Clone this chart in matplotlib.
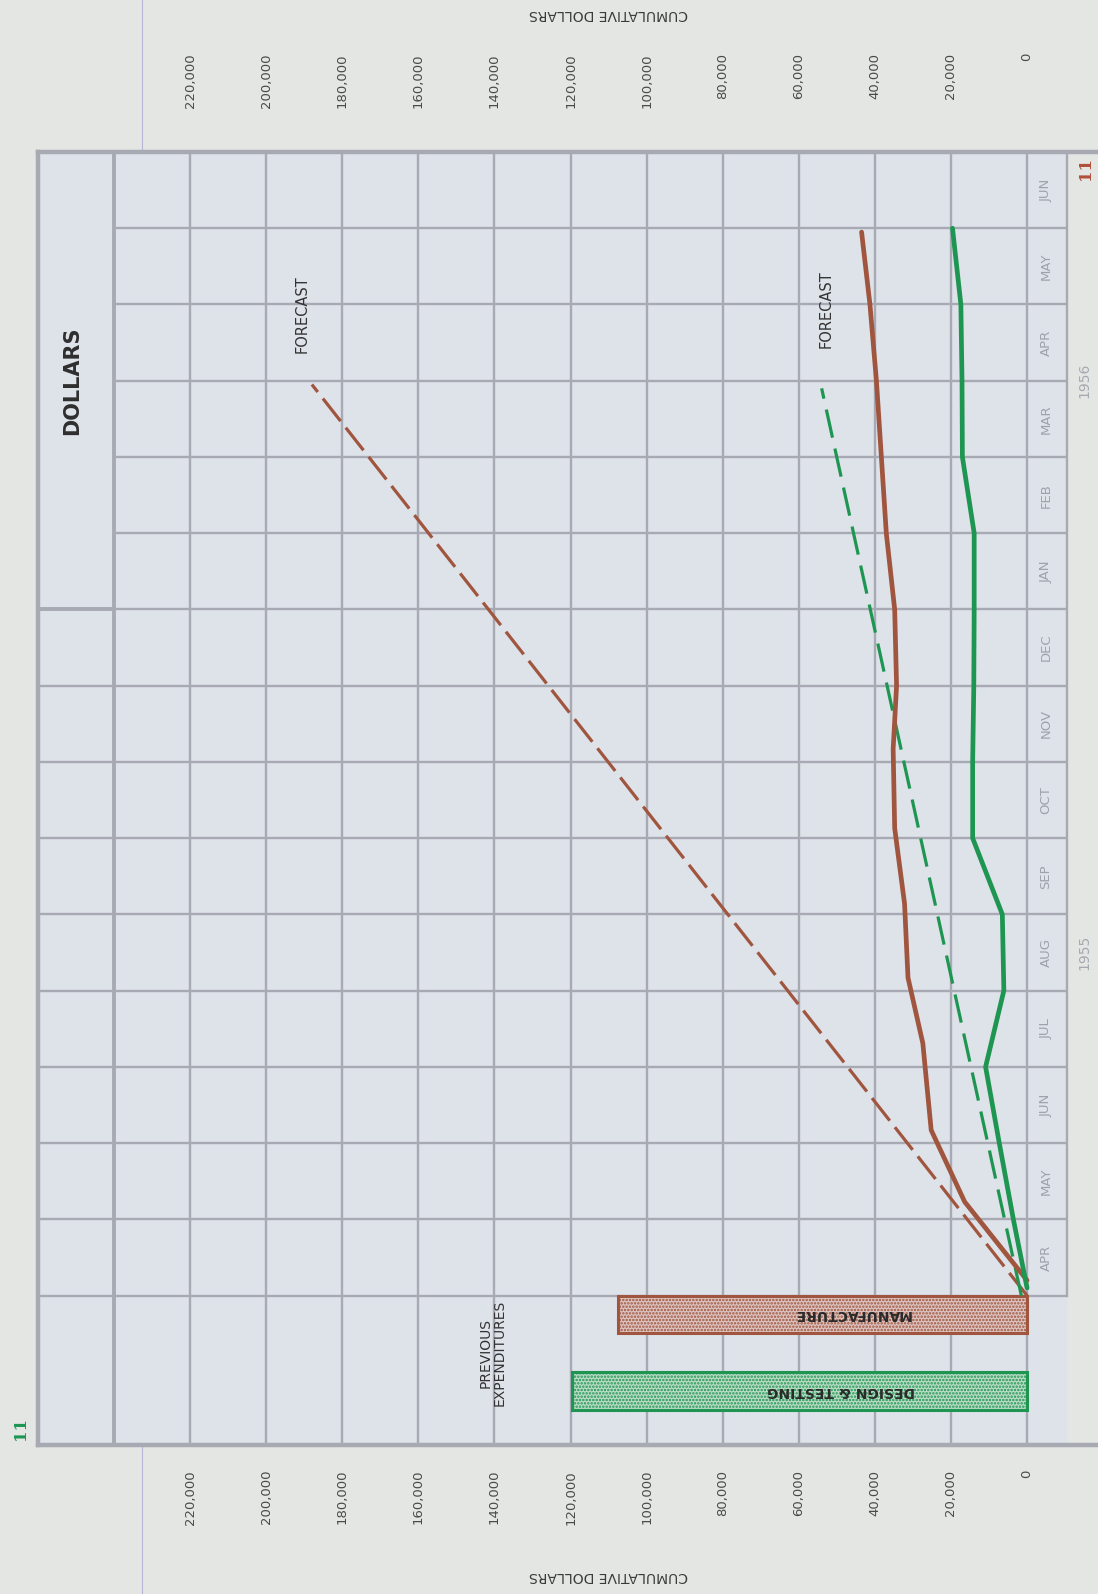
import numpy as np
import matplotlib
matplotlib.use("Agg")
import matplotlib.pyplot as plt
import matplotlib.transforms as mtransforms

# ---------------- data ----------------
months = ['APR', 'MAY', 'JUN', 'JUL', 'AUG', 'SEP', 'OCT', 'NOV', 'DEC',
          'JAN', 'FEB', 'MAR', 'APR', 'MAY', 'JUN']
value_ticks = [0, 20000, 40000, 60000, 80000, 100000, 120000, 140000,
               160000, 180000, 200000, 220000]
tick_labels = ['0', '20,000', '40,000', '60,000', '80,000', '100,000',
               '120,000', '140,000', '160,000', '180,000', '200,000', '220,000']

# actual cumulative spending (time in months from start of APR 1955)
design_t = [0.1, 1, 2, 3, 4, 5, 6, 7, 8, 9, 10, 11, 12, 13, 14]
design_v = [0, 3600, 7300, 10900, 6100, 6500, 14300, 14300, 14000,
            13900, 13900, 17000, 17100, 17400, 19600]

manuf_t = [0.2, 1.23, 2.17, 3.31, 4.17, 5.14, 6.13, 7.17, 8.0, 9.0,
           10.0, 11.0, 12.0, 13.0, 13.95]
manuf_v = [0, 16400, 25200, 27400, 31300, 32200, 34800, 35200, 34300,
           34800, 37000, 38300, 39600, 41300, 43500]

# forecasts
design_fc_t = [0.0, 11.9]
design_fc_v = [1500, 54000]
manuf_fc_t = [0.0, 11.95]
manuf_fc_v = [0, 188000]

# previous expenditures
prev_labels = ['MANUFACTURE', 'DESIGN & TESTING']
prev_values = [107500, 119500]

# ---------------- style ----------------
BROWN = '#a0553f'
GREEN = '#1e9652'
GRID = '#a7aab3'
BG_PAGE = '#e4e6e3'
BG_CHART = '#dee2e9'

W, H = 1098, 1594
fig = plt.figure(figsize=(W / 100, H / 100), dpi=100, facecolor=BG_PAGE)

left_px, right_px, top_px, bot_px = 38, 1067, 152, 1445
ax = fig.add_axes([left_px / W, 1 - bot_px / H,
                   (right_px - left_px) / W, (bot_px - top_px) / H])
ax.set_facecolor(BG_CHART)
XMIN, XMAX = 260000, -10500
YMIN, YMAX = -1.96, 15
ax.set_xlim(XMIN, XMAX)
ax.set_ylim(YMIN, YMAX)
ax.set_xticks([])
ax.set_yticks([])
for s in ax.spines.values():
    s.set_visible(False)

# paper margin line
fig.add_artist(plt.Line2D([142 / W, 142 / W], [0, 1], color='#bab4da',
                          lw=0.8, transform=fig.transFigure, zorder=0))

glw = 1.7
blw = 2.8
# vertical grid lines (value axis), continue to the two left columns
for v in list(value_ticks) + [240000]:
    ax.plot([v, v], [YMIN, YMAX], color=GRID, lw=(blw if v == 240000 else glw),
            zorder=1, solid_capstyle='butt')
ax.plot([XMIN, XMIN], [YMIN, YMAX], color=GRID, lw=3.2, zorder=1, clip_on=False)
ax.plot([XMAX, XMAX], [0, YMAX], color=GRID, lw=glw, zorder=1, clip_on=False)

# horizontal grid lines (months)
for t in range(0, 15):
    x0 = 240000 if 10 <= t <= 14 else XMIN
    ax.plot([x0, XMAX], [t, t], color=GRID, lw=glw,
            zorder=1, clip_on=False, solid_capstyle='butt')
ax.plot([XMIN, 240000], [9, 9], color=GRID, lw=blw, zorder=1, solid_capstyle='butt')
ax.plot([XMIN, -22000], [YMAX, YMAX], color=GRID, lw=3.2, zorder=1, clip_on=False)
ax.plot([XMIN, -22000], [YMIN, YMIN], color=GRID, lw=3.2, zorder=1, clip_on=False)

# month labels
for i, m in enumerate(months):
    ax.text(-5000, i + 0.5, m, rotation=90, ha='center', va='center',
            fontsize=9.5, color='#9ea2ab', family='DejaVu Sans')
ax.text(-15200, 4.5, '1955', rotation=90, ha='center', va='center',
        fontsize=10, color='#a5a9b1', clip_on=False)
ax.text(-15200, 12.0, '1956', rotation=90, ha='center', va='center',
        fontsize=10, color='#a5a9b1', clip_on=False)

# value tick labels top and bottom
trans = mtransforms.blended_transform_factory(ax.transData, fig.transFigure)
for v, lab in zip(value_ticks, tick_labels):
    ax.text(v, 1 - 53 / H, lab, rotation=90, ha='center', va='top',
            fontsize=9.5, color='#4a4a4a', transform=trans)
    ax.text(v, 1 - 1470 / H, lab, rotation=90, ha='center', va='top',
            fontsize=9.5, color='#4a4a4a', transform=trans)
ax.text(110000, 1 - 14 / H, 'CUMULATIVE DOLLARS', rotation=180, ha='center',
        va='center', fontsize=10, color='#3a3a3a', transform=trans)
ax.text(110000, 1 - 1576 / H, 'CUMULATIVE DOLLARS', rotation=180, ha='center',
        va='center', fontsize=10, color='#3a3a3a', transform=trans)

# DOLLARS title box
ax.text(251000, 12.0, 'DOLLARS', rotation=90, ha='center', va='center',
        fontsize=15, fontweight='bold', color='#2e2e2e')

# previous expenditure bars
plt.rcParams['hatch.linewidth'] = 1.2
ax.barh([-0.245], [prev_values[0]], height=0.49, left=0,
        color='#dcc4c1', edgecolor=BROWN, hatch='.....', lw=2.2, zorder=3)
ax.barh([-1.25], [prev_values[1]], height=0.5, left=0,
        color='#bcdcc6', edgecolor=GREEN, hatch='.....', lw=2.2, zorder=3)
ax.text(46000, -0.24, prev_labels[0], rotation=180, ha='center', va='center',
        fontsize=10, fontweight='bold', color='#2a2a2a', zorder=4)
ax.text(49000, -1.25, prev_labels[1], rotation=180, ha='center', va='center',
        fontsize=10, fontweight='bold', color='#2a2a2a', zorder=4)
ax.text(140500, -0.75, 'PREVIOUS\nEXPENDITURES', rotation=90, ha='center',
        va='center', fontsize=10, color='#333333', linespacing=1.0,
        multialignment='center')

# forecast lines
ax.plot(manuf_fc_v, manuf_fc_t, color=BROWN, lw=2.3, dashes=(9, 2.6), zorder=4)
ax.plot(design_fc_v, design_fc_t, color=GREEN, lw=2.3, dashes=(9, 3.5), zorder=4)
ax.text(190500, 12.87, 'FORECAST', rotation=90, ha='center', va='center',
        fontsize=10.5, color='#333333')
ax.text(52800, 12.94, 'FORECAST', rotation=90, ha='center', va='center',
        fontsize=10.5, color='#333333')

# actual lines
ax.plot(manuf_v, manuf_t, color=BROWN, lw=3.4, zorder=5, solid_capstyle='round',
        solid_joinstyle='round')
ax.plot(design_v, design_t, color=GREEN, lw=3.4, zorder=5, solid_capstyle='round',
        solid_joinstyle='round')

# page marks
fig.text(20 / W, 1 - 1428 / H, '11', rotation=90, ha='center', va='center',
         fontsize=12, fontweight='bold', color='#1e9652', family='DejaVu Serif')
fig.text(1086 / W, 1 - 168 / H, '11', rotation=90, ha='center', va='center',
         fontsize=12, fontweight='bold', color='#b0503a', family='DejaVu Serif')

fig.savefig('out.png', dpi=100, facecolor=fig.get_facecolor())
